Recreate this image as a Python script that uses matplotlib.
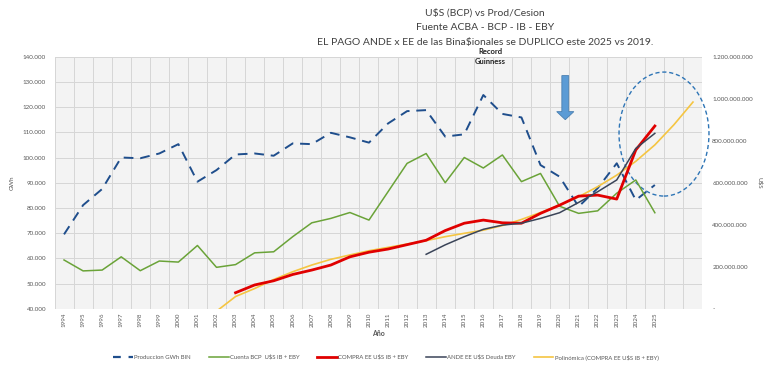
import matplotlib
matplotlib.use("Agg")
import matplotlib.pyplot as plt
from matplotlib.patches import Ellipse, FancyArrow
from matplotlib.lines import Line2D
from matplotlib.ticker import FuncFormatter, MultipleLocator, FixedLocator
import numpy as np

plt.rcParams['font.family'] = ['Lato', 'DejaVu Sans']

# categorias (1994 .. 2027, las dos ultimas sin etiqueta)
years = list(range(1994, 2028))
year_labels = [str(y) for y in range(1994, 2026)] + ["", ""]

# Produccion GWh BIN (eje izq), 1994-2025
prod_gwh = [69500, 81100, 87500, 100000, 99700, 101600, 105300, 90400, 95000, 101200,
            101600, 100700, 105600, 105300, 109800, 108000, 105900, 113500, 118400, 118800,
            108300, 109200, 124800, 117300, 115900, 97000, 92400, 80500, 87800, 97700,
            83100, 89100]

# US$ en millones (eje der)
cuenta_bcp = [232, 180, 184, 247, 181, 227, 222, 301, 197, 210,
              266, 271, 343, 409, 430, 458, 422, 557, 692, 739,
              600, 720, 670, 732, 605, 644, 488, 454, 466, 550,
              613, 457]
compra_years = list(range(2003, 2026))
compra_ee = [76, 113, 133, 163, 184, 208, 247, 269, 284, 305, 326, 372, 407, 422, 409,
             407, 454, 493, 536, 541, 522, 756, 870]
ande_years = list(range(2013, 2026))
ande_deuda = [259, 304, 343, 378, 398, 407, 430, 457, 506, 557, 613, 763, 835]
poli_years = list(range(2002, 2028))
polinomica = [-12, 58, 96, 139, 176, 208, 235, 256, 276, 292, 308, 324, 343, 359, 374,
              396, 425, 458, 493, 533, 581, 636, 702, 780, 876, 984]

def pos(ys):
    return [years.index(y) for y in ys]

fig = plt.figure(figsize=(7.7, 3.77), dpi=100)
ax = fig.add_axes([54.5 / 770, 1 - 308.7 / 377, 648 / 770, 252 / 377])
ax.set_facecolor("#f3f3f3")
ax2 = ax.twinx()

gray = "#595959"

ax.plot(pos(range(1994, 2026)), prod_gwh, color="#1f4e8c", lw=1.4,
        dashes=(5, 3.5), zorder=3)
ax2.plot(pos(range(1994, 2026)), np.array(cuenta_bcp) * 1e6, color="#6aa338", lw=1.1)
ax2.plot(pos(poli_years), np.array(polinomica) * 1e6, color="#f5c542", lw=1.2)
ax2.plot(pos(compra_years), np.array(compra_ee) * 1e6, color="#e00000", lw=2.0)
ax2.plot(pos(ande_years), np.array(ande_deuda) * 1e6, color="#3a4458", lw=1.1)

ax.set_xlim(-0.5, len(years) - 0.5)
ax.set_ylim(40000, 140000)
ax2.set_ylim(0, 1.2e9)

ax.set_xticks(range(len(years)))
ax.set_xticklabels(year_labels, rotation=90, fontsize=4, color=gray)
ax.xaxis.set_minor_locator(FixedLocator(np.arange(-0.5, len(years), 1)))
ax.yaxis.set_major_locator(MultipleLocator(10000))
ax2.yaxis.set_major_locator(MultipleLocator(2e8))
ax.yaxis.set_major_formatter(FuncFormatter(lambda v, p: f"{int(v):,}".replace(",", ".")))
ax2.yaxis.set_major_formatter(FuncFormatter(
    lambda v, p: "-" if v == 0 else f"{int(v):,}".replace(",", ".")))
ax.tick_params(axis="both", which="both", length=0, labelsize=4.5, labelcolor=gray)
ax.tick_params(axis="y", pad=6)
ax.tick_params(axis="x", pad=3)
ax2.tick_params(axis="y", length=0, labelsize=4.5, labelcolor=gray, pad=7)

ax.grid(True, axis="y", which="major", color="#d6d6d6", lw=0.7)
ax.grid(True, axis="x", which="minor", color="#d6d6d6", lw=0.7)
ax.grid(False, axis="x", which="major")
for a in (ax, ax2):
    for s in a.spines.values():
        s.set_visible(False)

ax.set_ylabel("GWh", fontsize=4.5, color=gray, labelpad=6)
ax2.set_ylabel("U$S", fontsize=4.5, color=gray, rotation=270, labelpad=7)

# flecha y elipse
arr = FancyArrow(26.3, 132500, 0, -17500, width=0.36, head_width=0.9,
                 head_length=3200, length_includes_head=True,
                 fc="#5b9bd5", ec="#4a7fb0", lw=0.6, zorder=4)
ax.add_patch(arr)
ell = Ellipse((31.48, 109300), 4.72, 49200, fill=False, ec="#2e75b6",
              lw=1.0, ls=(0, (3, 2)), clip_on=False, zorder=5)
ax.add_patch(ell)

# textos
fig.text(485 / 770, 1 - 13 / 377, "U$S (BCP) vs Prod/Cesion", ha="center", va="center",
         fontsize=7.5, color="#404040")
fig.text(485 / 770, 1 - 28 / 377, "Fuente ACBA - BCP - IB - EBY", ha="center", va="center",
         fontsize=7.5, color="#404040")
fig.text(485 / 770, 1 - 42 / 377,
         "EL PAGO ANDE x EE de las Bina$ionales se DUPLICO este 2025 vs 2019.",
         ha="center", va="center", fontsize=7.5, color="#404040")
fig.text(490 / 770, 1 - 51 / 377, "Record", ha="center", va="center", fontsize=5.5,
         fontweight="bold", color="#202020")
fig.text(490 / 770, 1 - 62 / 377, "Guinness", ha="center", va="center", fontsize=5.5,
         fontweight="bold", color="#202020")
fig.text(378 / 770, 1 - 334 / 377, "Año", ha="center", va="center", fontsize=5,
         fontweight="bold", color=gray)

handles = [
    Line2D([], [], color="#1f4e8c", lw=1.6, dashes=(3.5, 3.5)),
    Line2D([], [], color="#6aa338", lw=1.1),
    Line2D([], [], color="#e00000", lw=2.0),
    Line2D([], [], color="#3a4458", lw=1.1),
    Line2D([], [], color="#f5c542", lw=1.2),
]
labels = ["Produccion GWh BIN", "Cuenta BCP  U$S IB + EBY", "COMPRA EE U$S IB + EBY",
          "ANDE EE U$S Deuda EBY", "Polinómica (COMPRA EE U$S IB + EBY)"]
leg = fig.legend(handles, labels, loc="center", bbox_to_anchor=(386 / 770, 1 - 357 / 377),
                 ncol=5, frameon=False, fontsize=4.3, handlelength=3.3, handletextpad=0.2,
                 columnspacing=3.0)
for t in leg.get_texts():
    t.set_color(gray)

fig.savefig("out.png", dpi=100)
